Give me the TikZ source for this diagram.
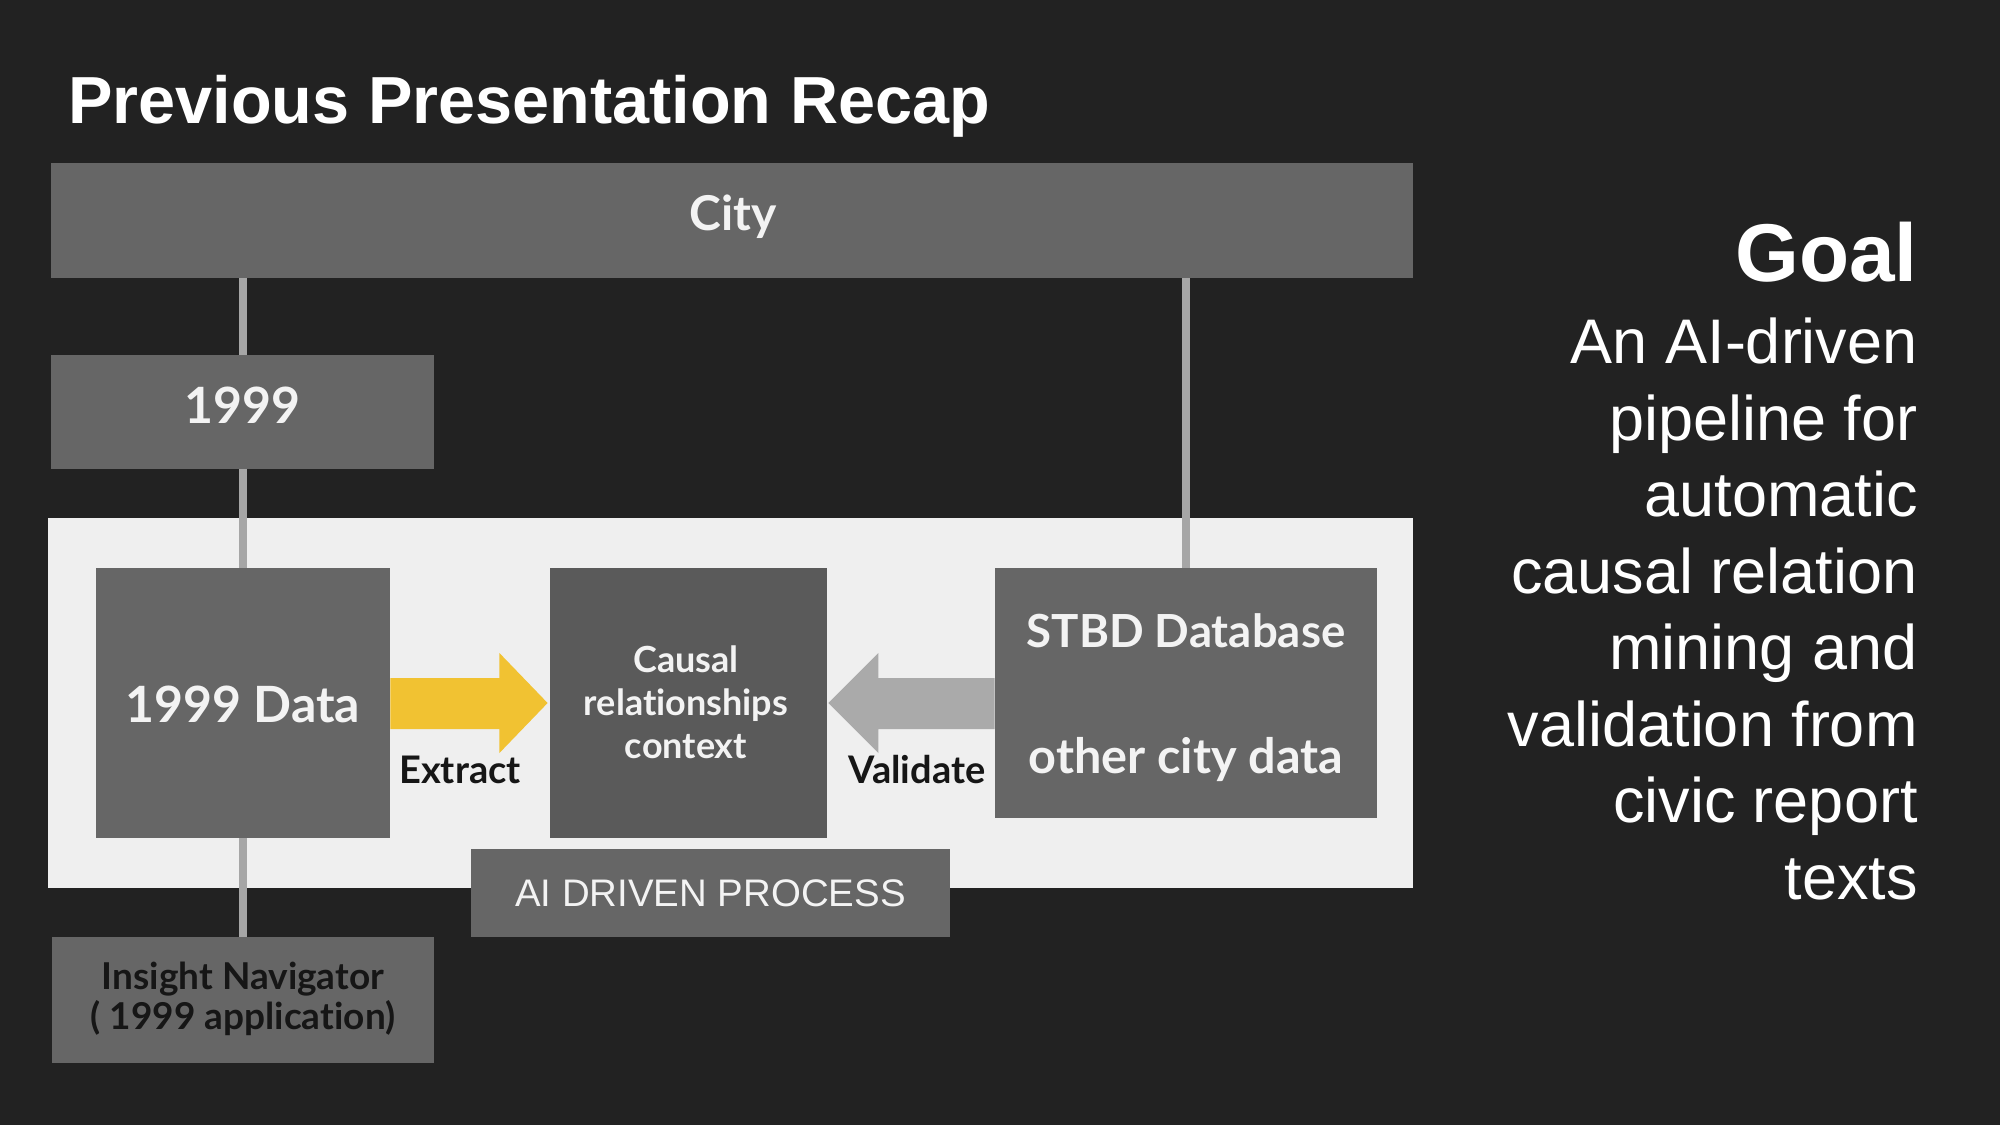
\documentclass[tikz,border=0pt]{standalone}
\usepackage{fontspec}
\setmainfont{Liberation Sans}
\newfontfamily\boxfont[Ligatures=NoCommon]{Lato}
\usetikzlibrary{calc}

\definecolor{bgc}{HTML}{222222}
\definecolor{boxc}{HTML}{666666}
\definecolor{darkboxc}{HTML}{5A5A5A}
\definecolor{panelc}{HTML}{EFEFEF}
\definecolor{linkc}{HTML}{A6A6A6}
\definecolor{yellowc}{HTML}{F1C232}
\definecolor{greyarrowc}{HTML}{AAAAAA}
\definecolor{textw}{HTML}{F3F3F3}
\definecolor{textd}{HTML}{161616}

\tikzset{
  greybox/.style={fill=boxc, draw=none, inner sep=0},
  panelbox/.style={fill=panelc, draw=none, inner sep=0},
  link/.style={draw=linkc, line width=4pt},
  wtext/.style={text=textw, inner sep=0, anchor=base,
    font=\boxfont\bfseries\fontsize{#1}{#1}\selectfont},
  dtext/.style={text=textd, inner sep=0, anchor=base,
    font=\boxfont\bfseries\fontsize{#1}{#1}\selectfont},
  goaltext/.style={text=white, inner sep=0, anchor=base east,
    font=\fontsize{31.5}{31.5}\selectfont},
}

\begin{document}
\begin{tikzpicture}[x=0.5pt,y=-0.5pt]
  % page
  \fill[bgc] (0,0) rectangle (2000,1125);
  \useasboundingbox (0,0) rectangle (2000,1125);

  % heading
  \node[text=white, inner sep=0, anchor=base west,
        font=\bfseries\fontsize{33.3}{33.3}\selectfont] (title) at (68,123)
        {Previous Presentation Recap};

  % city bar
  \node[greybox, minimum width=681pt, minimum height=57.5pt] (city) at (732,220.5) {};
  \node[wtext=24] (citytext) at (733,230) {City};

  % 1999 box
  \node[greybox, minimum width=191.5pt, minimum height=57pt] (y1999) at (242.5,412) {};
  \node[wtext=25] (y1999text) at (242.5,423) {1999};

  % light panel holding the process
  \node[panelbox, minimum width=682.5pt, minimum height=185pt] (panel) at (730.5,703) {};

  % process boxes
  \node[greybox, minimum width=147pt, minimum height=135pt] (data) at (243,703) {};
  \node[greybox, fill=darkboxc, minimum width=138.5pt, minimum height=135pt] (causal) at (688.5,703) {};
  \node[greybox, minimum width=191pt, minimum height=125pt] (stbd) at (1186,693) {};
  \node[greybox, minimum width=191pt, minimum height=63pt] (insight) at (243,1000) {};

  % connectors
  \draw[link] (y1999.north -| y1999.center) -- (city.south -| y1999.center);
  \draw[link] (y1999.south) -- (data.north -| y1999.south);
  \draw[link] (stbd.north) -- (city.south -| stbd.north);
  \draw[link] (data.south) -- (insight.north);

  % redraw boxes over connector ends
  \node[greybox, minimum width=147pt, minimum height=135pt] at (data) {};
  \node[greybox, minimum width=191pt, minimum height=125pt] at (stbd) {};

  % extract arrow
  \fill[yellowc]
    ($(data.east)+(0,-25)$) -- ($(data.east)+(109,-25)$) --
    ($(data.east)+(109,-50)$) -- ($(causal.west)+(-2,0)$) --
    ($(data.east)+(109,50)$) -- ($(data.east)+(109,26)$) --
    ($(data.east)+(0,26)$) -- cycle;

  % validate arrow
  \coordinate (vstart) at (stbd.west |- causal.east);
  \fill[greyarrowc]
    ($(vstart)+(0,-25)$) -- ($(causal.east)+(51,-25)$) --
    ($(causal.east)+(51,-50)$) -- ($(causal.east)+(1,0)$) --
    ($(causal.east)+(51,50)$) -- ($(causal.east)+(51,26)$) --
    ($(vstart)+(0,26)$) -- cycle;

  % box texts
  \node[wtext=25] (datatext) at (243,722) {1999 Data};
  \node[wtext=18] (causal1) at (686,672) {Causal};
  \node[wtext=18] (causal2) at (686,715) {relationships};
  \node[wtext=18] (causal3) at (686,758) {context};
  \node[wtext=22.8] (stbd1) at (1186,647) {STBD Database};
  \node[wtext=24.3] (stbd2) at (1186,773) {other city data};
  \node[dtext=19] (extract) at (460,783) {Extract};
  \node[dtext=19] (validate) at (917,783) {Validate};
  \node[dtext=18.5] (insight1) at (243,989) {Insight Navigator};
  \node[dtext=18.5] (insight2) at (243,1029) {( 1999 application)};

  % process label
  \node[greybox, minimum width=239.5pt, minimum height=44pt] (ai) at (710.5,893) {};
  \node[text=textw, inner sep=0, anchor=base,
        font=\fontsize{19.2}{19.2}\selectfont] (aitext) at (710.5,906) {AI DRIVEN PROCESS};

  % goal statement
  \node[text=white, inner sep=0, anchor=base east,
        font=\bfseries\fontsize{41}{41}\selectfont] (goal) at (1918,281) {Goal};
  \foreach \t [count=\i] in {An AI-driven, pipeline for, automatic, causal relation,
                             mining and, validation from, civic report, texts}
    \node[goaltext] (goal\i) at (1918,{363.5+76.5*(\i-1)}) {\t};
\end{tikzpicture}
\end{document}
